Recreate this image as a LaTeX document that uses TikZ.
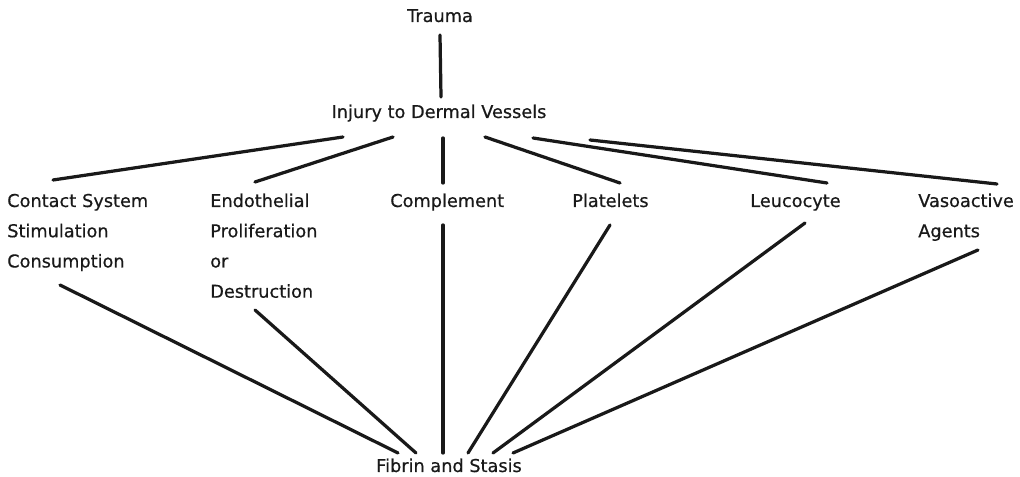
\documentclass[tikz,border=0pt]{standalone}
\usepackage{fontspec}
\usepackage{tikz}
\usetikzlibrary{calc}
\usetikzlibrary{positioning}
\newfontfamily\diagfont[FakeBold=0.6]{DejaVu Sans}
\tikzset{lbl/.style = {inner sep = 0, anchor = base west, align = left, text = black!90, font = \diagfont\fontsize{12.6}{21.5}\selectfont}}
\tikzset{link/.style = {line width = 2.3pt, line cap = round, black!90}}

\begin{document}
\begin{tikzpicture}[x = 0.025cm, y = -0.025cm]
      \useasboundingbox (0, 0) rectangle (1020, 477);
      \node [lbl, anchor = base] (trauma) at (440, 22) {Trauma};
      \node [lbl, anchor = base] (inj) at (439, 118) {Injury to Dermal Vessels};
      \node [lbl, text width = 4cm] (contact) at (7, 207) {Contact System\\Stimulation\\Consumption};
      \node [lbl, text width = 3cm] (endo) at (210, 207) {Endothelial\\Proliferation\\or\\Destruction};
      \node [lbl] (compl) at (390, 207) {Complement};
      \node [lbl] (plat) at (572, 207) {Platelets};
      \node [lbl] (leu) at (750, 207) {Leucocyte};
      \node [lbl, text width = 2.6cm] (vaso) at (918, 207) {Vasoactive\\Agents};
      \node [lbl, anchor = base] (fib) at (449, 472) {Fibrin and Stasis};
      % top
      \draw [link] ($(trauma.base) + (0, 13)$) -- ($(inj.base) + (2, -21)$);
      \draw [link] ($(inj.base) + (-96, 19)$) -- ($(contact.base west) + (46, -27)$);
      \draw [link] ($(inj.base) + (-46, 19)$) -- ($(endo.base west) + (45, -25)$);
      \draw [link] ($(inj.base) + (4, 20)$) -- ($(compl.base west) + (53, -24)$);
      \draw [link] ($(inj.base) + (46, 19)$) -- ($(plat.base west) + (48, -24)$);
      \draw [link] ($(inj.base) + (94, 20)$) -- ($(leu.base west) + (77, -24)$);
      \draw [link] ($(inj.base) + (151, 22)$) -- ($(vaso.base west) + (79, -23)$);
      % bottom
      \draw [link] ($(contact.base west) + (53, 78)$) -- ($(fib.base) + (-51, -19)$);
      \draw [link] ($(endo.base west) + (45, 103)$) -- ($(fib.base) + (-33, -19)$);
      \draw [link] ($(compl.base west) + (53, 18)$) -- ($(fib.base) + (-6, -19)$);
      \draw [link] ($(plat.base west) + (38, 18)$) -- ($(fib.base) + (19, -19)$);
      \draw [link] ($(leu.base west) + (55, 16)$) -- ($(fib.base) + (44, -19)$);
      \draw [link] ($(vaso.base west) + (60, 43)$) -- ($(fib.base) + (64, -19)$);
    \end{tikzpicture}
\end{document}
